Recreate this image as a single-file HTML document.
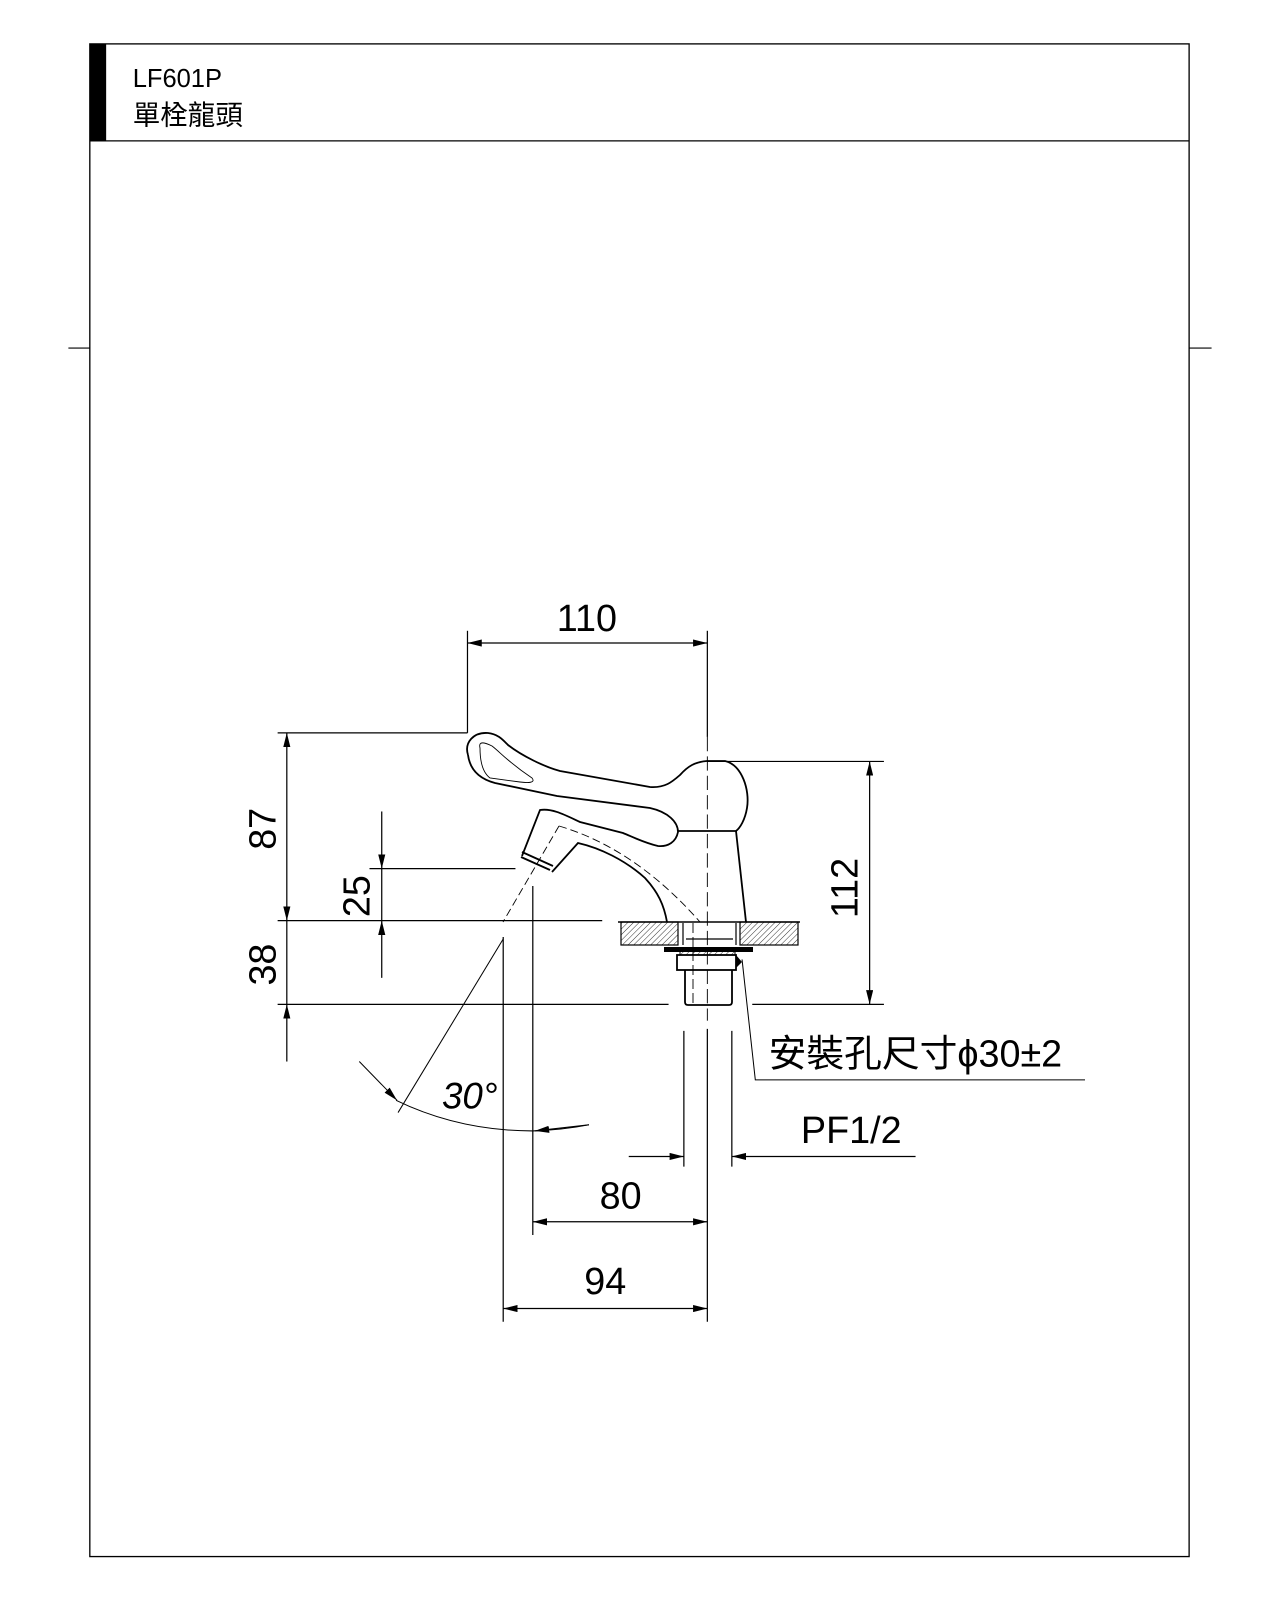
<!DOCTYPE html>
<html><head><meta charset="utf-8"><style>
html,body{margin:0;padding:0;background:#fff;}
svg{display:block;}
text{font-family:"Liberation Sans","Noto Sans CJK TC",sans-serif;fill:#000;}
</style></head><body>
<svg width="1280" height="1600" viewBox="0 0 1280 1600" xmlns="http://www.w3.org/2000/svg">
<defs>
<marker id="a" viewBox="0 0 14 7" refX="14" refY="3.5" markerWidth="14" markerHeight="7" markerUnits="userSpaceOnUse" orient="auto-start-reverse"><path d="M0,0 L14,3.5 L0,7z" fill="#000"/></marker>
<pattern id="h" width="4" height="4" patternUnits="userSpaceOnUse" patternTransform="rotate(45)"><line x1="0" y1="0" x2="0" y2="4" stroke="#000" stroke-width="0.8"/></pattern>
</defs>
<g transform="scale(1.0207)" stroke="#000" fill="none" stroke-width="1.2">
<rect x="88" y="43" width="1077" height="1482" stroke-width="1.3"/>
<line x1="88" y1="138" x2="1165" y2="138"/>
<rect x="88" y="43" width="16" height="95" fill="#000" stroke="none"/>
<line x1="67" y1="341" x2="88" y2="341"/>
<line x1="1165" y1="341" x2="1187" y2="341"/>
<line x1="458" y1="618" x2="458" y2="718"/>
<line x1="693" y1="618" x2="693" y2="722"/>
<line x1="693" y1="722" x2="693" y2="1000" stroke-dasharray="14,5" stroke-width="0.9"/>
<line x1="693" y1="1008" x2="693" y2="1295"/>
<line x1="272" y1="718" x2="458" y2="718"/>
<line x1="693" y1="746" x2="866" y2="746"/>
<line x1="272" y1="902" x2="590" y2="902"/>
<line x1="272" y1="984" x2="655" y2="984"/>
<line x1="737" y1="984" x2="866" y2="984"/>
<line x1="362" y1="851" x2="505" y2="851"/>
<line x1="493" y1="918" x2="493" y2="1295"/>
<line x1="522" y1="868" x2="522" y2="1210"/>
<line x1="670" y1="1010" x2="670" y2="1143"/>
<line x1="717" y1="1010" x2="717" y2="1143"/>
<line x1="458" y1="630" x2="693" y2="630" marker-start="url(#a)" marker-end="url(#a)"/>
<line x1="281" y1="718" x2="281" y2="902" marker-start="url(#a)" marker-end="url(#a)"/>
<line x1="281" y1="902" x2="281" y2="984"/>
<line x1="281" y1="1040" x2="281" y2="984" marker-end="url(#a)"/>
<line x1="374" y1="795" x2="374" y2="851" marker-end="url(#a)"/>
<line x1="374" y1="851" x2="374" y2="902"/>
<line x1="374" y1="958" x2="374" y2="902" marker-end="url(#a)"/>
<line x1="852" y1="746" x2="852" y2="984" marker-start="url(#a)" marker-end="url(#a)"/>
<line x1="522" y1="1197" x2="693" y2="1197" marker-start="url(#a)" marker-end="url(#a)"/>
<line x1="493" y1="1282" x2="693" y2="1282" marker-start="url(#a)" marker-end="url(#a)"/>
<line x1="616" y1="1133" x2="670" y2="1133" marker-end="url(#a)"/>
<line x1="897" y1="1133" x2="717" y2="1133" marker-end="url(#a)"/>
<polyline points="727,940 740,1058 1063,1058" stroke-width="1"/>
<path d="M388,1078 Q450,1108 522,1108 Q552,1107 577,1102" stroke-width="1"/>
<line x1="352" y1="1040" x2="389" y2="1078" marker-end="url(#a)" stroke-width="1"/>
<line x1="577" y1="1102" x2="524" y2="1108" marker-end="url(#a)" stroke-width="1"/>
<line x1="493" y1="920" x2="390" y2="1090" stroke-width="1"/>
</g>
<g stroke="#000" fill="none" stroke-width="1.8">
<path d="M468,755 C464,742 474,732 488,733 C498,734 503,740 508,745 C522,756 545,767 560,771 L650,787 C665,788 672,782 680,775 C688,766 695,762 707,761 L725,761 C742,765 750,790 747,808 C745,820 740,828 736,831 L678,831"/>
<path d="M468,755 C470,770 480,779 495,783 L557,796 L650,808 C668,812 678,822 678,832 C676,842 668,847 658,846 C645,843 635,838 623,833 L580,822 C565,815 552,808 540,810 L522,856"/>
<path d="M522,852 L553,866 M521,857 L550,870 M552,872 L578,843 C600,848 625,860 645,878 C658,892 664,905 667,922"/>
<path d="M736,831 L746,922"/>
<path d="M480,748 C478,740 486,743 492,746 C500,752 508,762 532,778 C536,783 528,783 520,782 L490,778 C482,772 480,760 480,748z" stroke-width="0.9"/>
<path d="M559,826 C600,838 650,865 700,922" stroke-dasharray="8,4" stroke-width="0.9"/>
<path d="M559,826 L503,922" stroke-dasharray="8,4" stroke-width="0.9"/>
<rect x="621" y="922" width="57" height="23" fill="url(#h)" stroke-width="1.2"/>
<rect x="740" y="922" width="58" height="23" fill="url(#h)" stroke-width="1.2"/>
<line x1="618" y1="922" x2="800" y2="922" stroke-width="1.5"/>
<path d="M683,923 V945 M736,923 V945 M686,939 H733" stroke-width="1.2"/>
<rect x="664" y="947" width="89" height="5" fill="#000" stroke="none"/>
<rect x="680" y="948" width="55" height="7" fill="url(#h)" stroke-width="1"/>
<rect x="677" y="955" width="59" height="15" stroke-width="1.8"/>
<path d="M685,970 V1002 Q685,1005 688,1005 H729 Q732,1005 732,1002 V970" stroke-width="1.8"/>
<line x1="693" y1="923" x2="693" y2="1005" stroke-dasharray="10,4" stroke-width="0.9"/>
<path d="M736,955 L742,962 L736,968z" fill="#000" stroke="none"/>
</g>
<g transform="scale(1.0207)">
<text x="130" y="85" font-size="25">LF601P</text>
<text x="130" y="122" font-size="27">單栓龍頭</text>
<text x="575" y="618" font-size="37" text-anchor="middle">110</text>
<text x="608" y="1184" font-size="37" text-anchor="middle">80</text>
<text x="593" y="1268" font-size="37" text-anchor="middle">94</text>
<text x="834" y="1120" font-size="37" text-anchor="middle">PF1/2</text>
<text x="753" y="1045" font-size="37">安裝孔尺寸ϕ30±2</text>
<text x="433" y="1086" font-size="36" font-style="italic">30°</text>
<text transform="translate(270,812) rotate(-90)" font-size="37" text-anchor="middle">87</text>
<text transform="translate(362,878) rotate(-90)" font-size="37" text-anchor="middle">25</text>
<text transform="translate(270,945) rotate(-90)" font-size="37" text-anchor="middle">38</text>
<text transform="translate(840,870) rotate(-90)" font-size="37" text-anchor="middle">112</text>
</g>
</svg>
</body></html>
